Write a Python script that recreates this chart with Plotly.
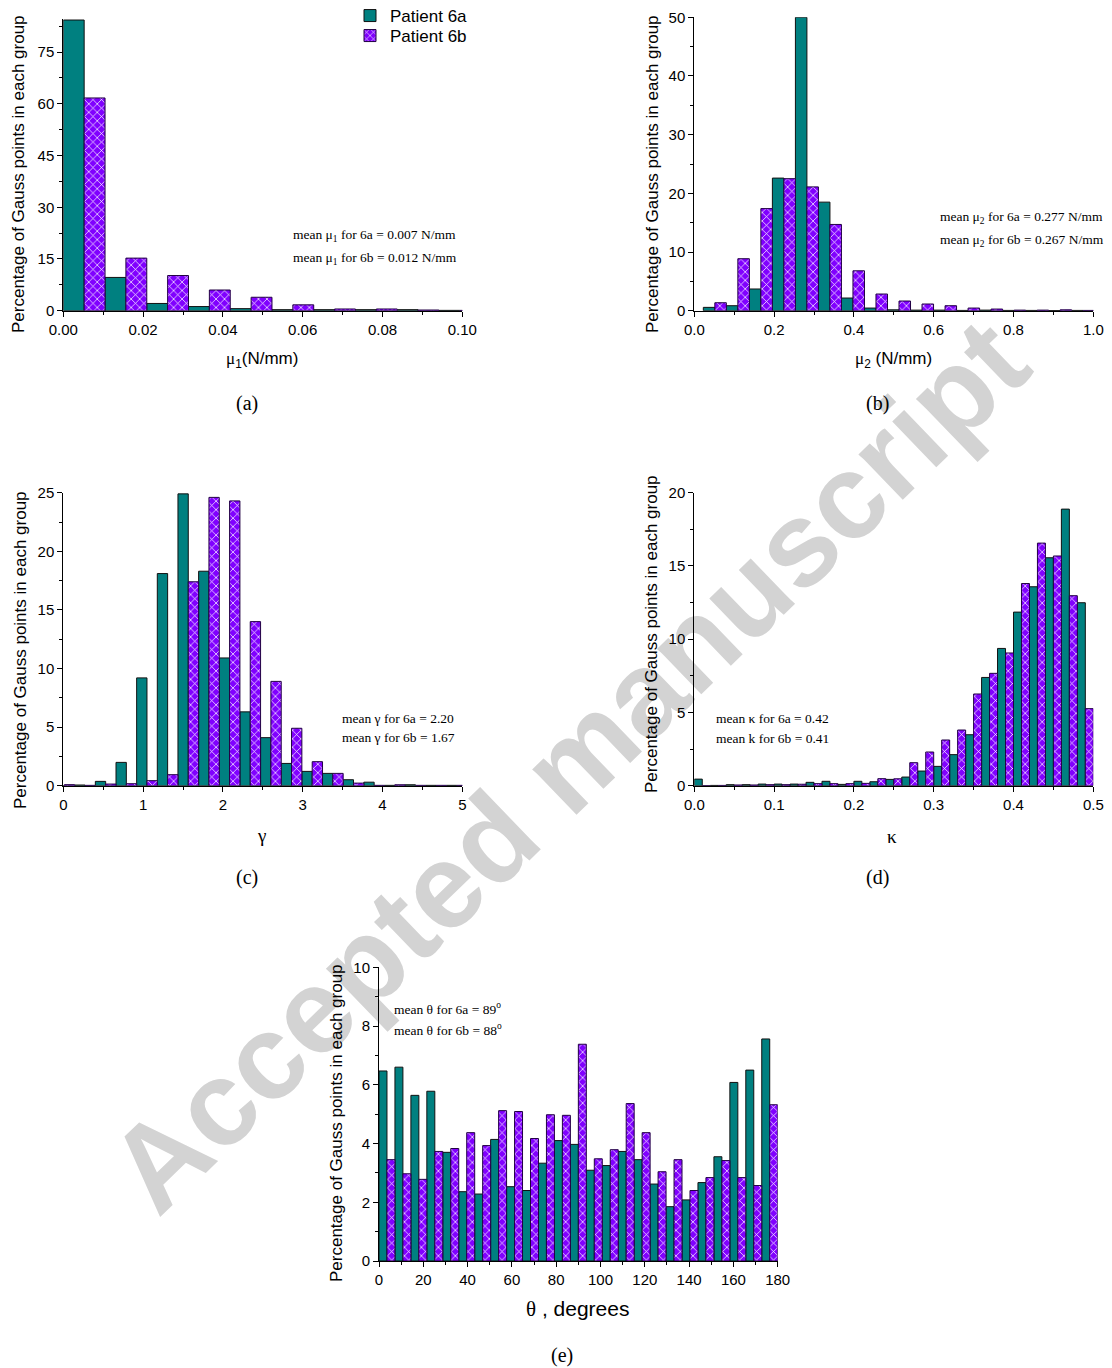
import plotly.graph_objects as go

W, H = 1112, 1368

# ---------------- data: left edge of each histogram group, group width, and bar heights (%) ----------------
mu1_edges = [0.0, 0.01046, 0.02092, 0.03138, 0.04184, 0.0523, 0.06276, 0.07322, 0.08368, 0.09414]
mu1_width = 0.01046
mu1_6a = [84.3, 9.65, 2.1, 1.2, 0.6, 0.3, 0.3, 0.3, 0.3, 0.1]
mu1_6b = [61.7, 15.25, 10.2, 6.0, 3.9, 1.7, 0.5, 0.5, 0.2, 0.1]

mu2_edges = [0.0226, 0.0803, 0.138, 0.1957, 0.2534, 0.3111, 0.3688, 0.4265, 0.4842,
             0.5419, 0.5996, 0.6573, 0.715, 0.7727, 0.8304, 0.8881, 0.9458]
mu2_width = 0.0577
mu2_6a = [0.57, 0.85, 3.7, 22.6, 50.0, 18.5, 2.16, 0.45, 0.15, 0.1, 0.1, 0.05, 0.1, 0.05, 0.05, 0.03, 0.05]
mu2_6b = [1.36, 8.86, 17.4, 22.5, 21.1, 14.7, 6.8, 2.84, 1.65, 1.14, 0.85, 0.45, 0.28, 0.1, 0.1, 0.15, 0.05]

gam_edges = [-0.116, 0.1428, 0.4016, 0.6604, 0.9192, 1.178, 1.4368, 1.6956, 1.9544, 2.2132,
             2.472, 2.7308, 2.9896, 3.2484, 3.5072, 3.766, 4.0248, 4.2836, 4.5424, 4.8012]
gam_width = 0.2588
gam_6a = [0.0, 0.06, 0.37, 1.99, 9.2, 18.1, 24.9, 18.3, 10.9, 6.3, 4.1, 1.9, 1.22, 1.05, 0.51, 0.3,
          0.03, 0.08, 0.03, 0.03]
gam_6b = [0.09, 0.03, 0.14, 0.17, 0.43, 0.94, 17.4, 24.6, 24.3, 14.0, 8.9, 4.9, 2.05, 1.05, 0.22, 0.03,
          0.08, 0.03, 0.03, 0.03]

kap_edges = [0.0, 0.02, 0.04, 0.06, 0.08, 0.10, 0.12, 0.14, 0.16, 0.18, 0.20, 0.22, 0.24,
             0.26, 0.28, 0.30, 0.32, 0.34, 0.36, 0.38, 0.40, 0.42, 0.44, 0.46, 0.48]
kap_width = 0.02
kap_6a = [0.45, 0.02, 0.07, 0.07, 0.11, 0.11, 0.11, 0.23, 0.3, 0.09, 0.3, 0.27, 0.43,
          0.59, 1.0, 1.32, 2.12, 3.48, 7.39, 9.37, 11.85, 13.58, 15.56, 18.88, 12.49]
kap_6b = [0.0, 0.02, 0.05, 0.05, 0.07, 0.07, 0.1, 0.14, 0.14, 0.14, 0.16, 0.48, 0.47,
          1.57, 2.3, 3.12, 3.8, 6.26, 7.67, 9.06, 13.8, 16.56, 15.68, 12.97, 5.26]

the_edges = [0.0, 7.2, 14.4, 21.6, 28.8, 36.0, 43.2, 50.4, 57.6, 64.8, 72.0, 79.2, 86.4,
             93.6, 100.8, 108.0, 115.2, 122.4, 129.6, 136.8, 144.0, 151.2, 158.4, 165.6, 172.8]
the_width = 7.2
the_6a = [6.47, 6.6, 5.64, 5.78, 3.70, 2.36, 2.28, 4.14, 2.53, 2.40, 3.33, 4.10, 3.97,
          3.09, 3.25, 3.73, 3.45, 2.62, 1.85, 2.08, 2.67, 3.55, 6.08, 6.50, 7.56]
the_6b = [3.45, 2.97, 2.78, 3.73, 3.83, 4.37, 3.93, 5.12, 5.09, 4.17, 4.98, 4.96, 7.38,
          3.48, 3.79, 5.36, 4.37, 3.04, 3.45, 2.40, 2.84, 3.42, 2.84, 2.57, 5.32]

series_names = ["Patient 6a", "Patient 6b"]

TEAL = "#008080"
VIOLET = "#8000ff"
SANS = "Liberation Sans"
SERIF = "Liberation Serif"


def px_x(p):
    return p / W


def px_y(p):
    return 1 - p / H


def greek(ch):
    return "<span style='font-family:Liberation Serif'>" + ch + "</span>"


# panel boxes in pixels: (left, right, top, bottom)
panels = [
    dict(box=(63.3, 462.3, 19.0, 310.7), edges=mu1_edges, w=mu1_width, a=mu1_6a, b=mu1_6b,
         xr=[0, 0.10], xd=0.02, xmin=0.01, xf=".2f", yr=[0, 84.6], yd=15, ymin=7.5),
    dict(box=(694.3, 1093.3, 17.3, 310.7), edges=mu2_edges, w=mu2_width, a=mu2_6a, b=mu2_6b,
         xr=[0, 1.0], xd=0.2, xmin=0.1, xf=".1f", yr=[0, 50], yd=10, ymin=5),
    dict(box=(63.3, 462.3, 492.7, 785.7), edges=gam_edges, w=gam_width, a=gam_6a, b=gam_6b,
         xr=[0, 5], xd=1, xmin=0.5, xf="d", yr=[0, 25], yd=5, ymin=2.5),
    dict(box=(694.3, 1093.3, 492.7, 785.7), edges=kap_edges, w=kap_width, a=kap_6a, b=kap_6b,
         xr=[0, 0.5], xd=0.1, xmin=0.05, xf=".1f", yr=[0, 20], yd=5, ymin=2.5),
    dict(box=(379.0, 777.7, 967.3, 1261.0), edges=the_edges, w=the_width, a=the_6a, b=the_6b,
         xr=[0, 180], xd=20, xmin=10, xf="d", yr=[0, 10], yd=2, ymin=1),
]

fig = go.Figure()
layout = dict(
    width=W, height=H, margin=dict(l=0, r=0, t=0, b=0, autoexpand=False),
    paper_bgcolor="white", plot_bgcolor="rgba(0,0,0,0)",
    barmode="overlay", showlegend=True,
    font=dict(family=SANS, size=15, color="black"),
)

for i, p in enumerate(panels):
    n = "" if i == 0 else str(i + 1)
    xa, ya = "x" + n, "y" + n
    l, r, t, b = p["box"]
    half = p["w"] / 2
    fig.add_trace(go.Bar(
        x=p["edges"], y=p["a"], width=half, offset=0, xaxis=xa, yaxis=ya,
        name=series_names[0], showlegend=(i == 0), legend="legend",
        marker=dict(color=TEAL, line=dict(color="#111111", width=1)),
    ))
    fig.add_trace(go.Bar(
        x=p["edges"], y=p["b"], width=half, offset=half, xaxis=xa, yaxis=ya,
        name=series_names[1], showlegend=(i == 0), legend="legend2",
        marker=dict(color=VIOLET, line=dict(color="#220044", width=1),
                    pattern=dict(shape="x", fgcolor="white", bgcolor=VIOLET,
                                 size=6, solidity=0.22, fillmode="replace")),
    ))
    common = dict(showline=True, linecolor="black", linewidth=1, showgrid=False, zeroline=False,
                  ticks="outside", ticklen=5, tickwidth=1, tickcolor="black", automargin=False,
                  tickfont=dict(family=SANS, size=15, color="black"))
    layout["xaxis" + n] = dict(
        domain=[px_x(l), px_x(r)], anchor=ya, range=p["xr"], dtick=p["xd"], tick0=0,
        tickformat=p["xf"], minor=dict(dtick=p["xmin"], ticks="outside", ticklen=3, tickcolor="black"),
        **common)
    layout["yaxis" + n] = dict(
        domain=[px_y(b), px_y(t)], anchor=xa, range=p["yr"], dtick=p["yd"], tick0=0,
        minor=dict(dtick=p["ymin"], ticks="outside", ticklen=3, tickcolor="black"),
        **common)

# one legend box per series so the two entries sit at their own rows
legend_style = dict(xanchor="left", yanchor="top", bgcolor="rgba(0,0,0,0)", itemwidth=30,
                    font=dict(family=SANS, size=17, color="black"))
layout["legend"] = dict(x=px_x(350), y=px_y(-2), **legend_style)
layout["legend2"] = dict(x=px_x(350), y=px_y(18), **legend_style)

ann = []
ytitle = "Percentage of Gauss points in each group"
for (xp, yp) in [(18, 174), (652, 174), (20, 650), (651, 634), (336, 1123)]:
    ann.append(dict(text=ytitle, x=px_x(xp), y=px_y(yp), xref="paper", yref="paper",
                    textangle=-90, showarrow=False, xanchor="center", yanchor="middle",
                    font=dict(family=SANS, size=17, color="black")))

xtitles = [
    (greek("\u03bc") + "<sub>1</sub>(N/mm)", 262, 360, 17),
    (greek("\u03bc") + "<sub>2</sub> (N/mm)", 893, 360, 17),
    (greek("\u03b3"), 261, 835, 19),
    (greek("\u03ba"), 892, 836, 19),
    (greek("\u03b8") + " , degrees", 577, 1309, 21),
]
for txt, xp, yp, fs in xtitles:
    ann.append(dict(text=txt, x=px_x(xp), y=px_y(yp), xref="paper", yref="paper",
                    showarrow=False, xanchor="center", yanchor="middle",
                    font=dict(family=SANS, size=fs, color="black")))

for txt, xp, yp in [("(a)", 247, 404), ("(b)", 877, 404), ("(c)", 247, 877),
                    ("(d)", 877, 877), ("(e)", 562, 1355)]:
    ann.append(dict(text=txt, x=px_x(xp), y=px_y(yp), xref="paper", yref="paper",
                    showarrow=False, xanchor="center", yanchor="middle",
                    font=dict(family=SERIF, size=20, color="black")))

notes = [
    ("mean \u03bc<sub>1</sub> for 6a = 0.007 N/mm", 291, 235),
    ("mean \u03bc<sub>1</sub> for 6b = 0.012 N/mm", 291, 258),
    ("mean \u03bc<sub>2</sub> for 6a = 0.277 N/mm", 938, 217),
    ("mean \u03bc<sub>2</sub> for 6b = 0.267 N/mm", 938, 240),
    ("mean \u03b3 for 6a = 2.20", 340, 718),
    ("mean \u03b3 for 6b = 1.67", 340, 737),
    ("mean \u03ba for 6a = 0.42", 714, 719),
    ("mean k for 6b = 0.41", 714, 738),
    ("mean \u03b8 for 6a = 89<sup>o</sup>", 392, 1008),
    ("mean \u03b8 for 6b = 88<sup>o</sup>", 392, 1029),
]
for txt, xp, yp in notes:
    ann.append(dict(text=txt, x=px_x(xp), y=px_y(yp), xref="paper", yref="paper",
                    showarrow=False, xanchor="left", yanchor="middle",
                    font=dict(family=SERIF, size=13.5, color="black")))

layout["annotations"] = ann

# diagonal watermark drawn underneath the plots
cx, cy = 560, 757
layout["shapes"] = [dict(
    type="rect", xref="paper", yref="paper",
    x0=px_x(cx - 1), x1=px_x(cx + 1), y0=px_y(cy + 1), y1=px_y(cy - 1),
    line=dict(width=0), fillcolor="rgba(0,0,0,0)", layer="below",
    label=dict(text="Accepted manuscript", textangle=-44, textposition="middle center",
               font=dict(family=SANS, size=120, color="#d3d3d3", weight="bold")),
)]

fig.update_layout(**layout)
fig.write_html("out.html")
